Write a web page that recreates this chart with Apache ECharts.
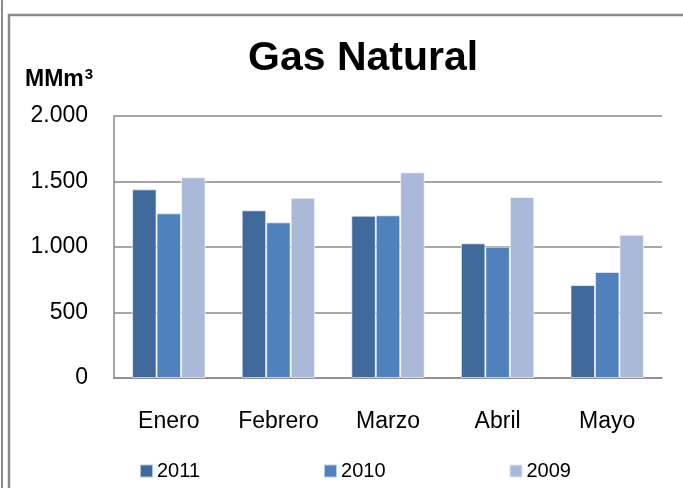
<!DOCTYPE html>
<html>
<head>
<meta charset="utf-8">
<script src="https://cdn.jsdelivr.net/npm/echarts@6/dist/echarts.min.js"></script>
<style>
  html, body { margin: 0; padding: 0; background: #fff; }
  #main { width: 683px; height: 488px; }
</style>
</head>
<body>
<div id="main"></div>
<script>
const months = ['Enero', 'Febrero', 'Marzo', 'Abril', 'Mayo']
const v2011 = [1440, 1280, 1239, 1028, 710]
const v2010 = [1257, 1188, 1242, 1002, 809]
const v2009 = [1532, 1376, 1570, 1382, 1094]
const yTicks = { min: 0, max: 2000, interval: 500 }

const font = 'Liberation Sans'
const gray = '#8a8a8a'

const chart = echarts.init(document.getElementById('main'))

// formato 2.000 (punto de miles)
const fmt = v => String(v).replace(/\B(?=(\d{3})+(?!\d))/g, '.')

const barStyle = color => ({ color: color, borderColor: 'rgba(255,255,255,0.6)', borderWidth: 1 })

chart.setOption({
  animation: false,
  textStyle: { fontFamily: font },
  title: [
    { text: 'Gas Natural', left: 243, top: 33,
      textStyle: { fontFamily: font, fontSize: 41, fontWeight: 'bold', color: '#000' } },
    { text: 'MMm{s|3}', left: 20, top: 62,
      textStyle: { fontFamily: font, fontSize: 23, fontWeight: 'bold', color: '#000',
        rich: { s: { fontFamily: font, fontSize: 15, fontWeight: 'bold', color: '#000', verticalAlign: 'top', padding: [0, 0, 10, 1] } } } }
  ],
  graphic: [
    { type: 'line', shape: { x1: 2, y1: 0, x2: 2, y2: 488 }, style: { stroke: gray, lineWidth: 2 } },
    { type: 'polyline', shape: { points: [[9, 488], [9, 15], [683, 15]] }, style: { stroke: gray, lineWidth: 2.5, fill: null } }
  ],
  legend: {
    left: 134, top: 456,
    itemWidth: 13, itemHeight: 13, itemGap: 123,
    icon: 'rect',
    textStyle: { fontFamily: font, fontSize: 20, color: '#000', padding: [0, 0, 0, -1] },
    data: ['2011', '2010', '2009']
  },
  grid: { left: 114, right: 21, top: 116, bottom: 110, containLabel: false },
  xAxis: {
    type: 'category',
    data: months,
    axisLine: { show: true, lineStyle: { color: gray, width: 1.5 } },
    axisTick: { show: false },
    axisLabel: { fontFamily: font, fontSize: 23, color: '#000', margin: 32 }
  },
  yAxis: {
    type: 'value',
    min: yTicks.min, max: yTicks.max, interval: yTicks.interval,
    axisLine: { show: true, lineStyle: { color: gray, width: 1.5 } },
    axisTick: { show: false },
    splitLine: { lineStyle: { color: gray, width: 1.5 } },
    axisLabel: { fontFamily: font, fontSize: 23, color: '#000', margin: 26, formatter: fmt }
  },
  series: [
    { name: '2011', type: 'bar', data: v2011, itemStyle: barStyle('#416A9C'), barGap: '0%', barCategoryGap: '33%' },
    { name: '2010', type: 'bar', data: v2010, itemStyle: barStyle('#4F81BD') },
    { name: '2009', type: 'bar', data: v2009, itemStyle: barStyle('#AAB9D7') }
  ]
})
</script>
</body>
</html>
